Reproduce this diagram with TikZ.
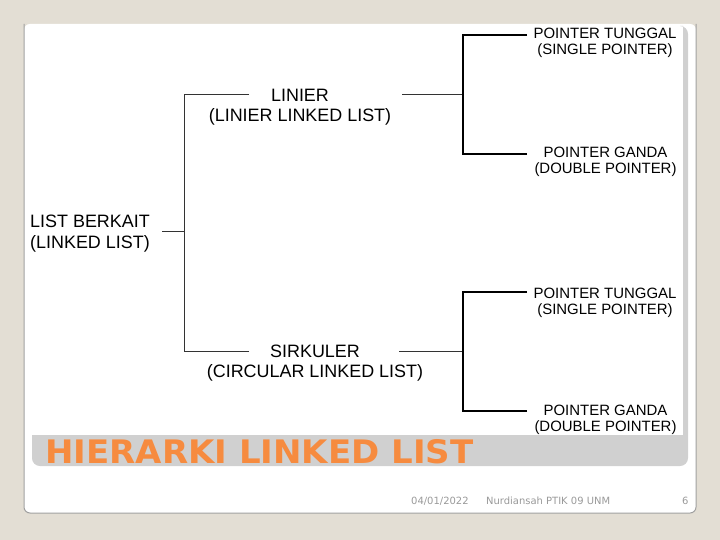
\documentclass[tikz,border=0pt]{standalone}
\usepackage{fontspec}
\setmainfont{Liberation Sans}
\newfontfamily\titlefont[FakeStretch=1.05]{DejaVu Sans}
\newfontfamily\footfont{DejaVu Sans}
\definecolor{bgbeige}{HTML}{E3DED4}
\definecolor{bandgray}{HTML}{D0D0D0}
\definecolor{titleorange}{HTML}{F68B3F}
\definecolor{footgray}{HTML}{9A9A9A}
\definecolor{edgegray}{HTML}{A0A0A0}
\definecolor{linegray}{HTML}{333333}
\tikzset{
  biglab/.style={inner sep=0pt, align=center, text=black, font=\fontsize{18}{20}\selectfont},
  rootlab/.style={inner sep=0pt, align=left, text=black, font=\fontsize{18}{21}\selectfont},
  smalllab/.style={inner sep=0pt, align=center, text=black, font=\fontsize{15}{16}\selectfont},
  thinline/.style={draw=linegray, line width=1bp},
  thickline/.style={draw=black, line width=2bp},
  footer/.style={inner sep=0pt, anchor=base west, text=footgray, font=\footfont\fontsize{10}{12}\selectfont},
}
\begin{document}
\begin{tikzpicture}[x=1bp,y=-1bp]
\fill[bgbeige] (0,0) rectangle (720,540);
\useasboundingbox (0,0) rectangle (720,540);
% slide
\fill[white, rounded corners=6] (24,24) rectangle (696,513);
\draw[edgegray, line width=1bp, rounded corners=6] (24,24) -- (24,513) -- (696,513) -- (696,24);
% gray band
\fill[bandgray] (32,435) [rounded corners=8] -- (32,466) -- (688,466) -- (688,26) [sharp corners] -- (683,26) -- (683,435) -- cycle;
% title
\node[anchor=base west, inner sep=0pt, text=titleorange, font=\titlefont\bfseries\fontsize{32.5}{36}\selectfont] (title) at (45,463) {HIERARKI LINKED LIST};
% labels
\node[rootlab, anchor=west] (root) at (30,234) {LIST BERKAIT\\(LINKED LIST)};
\node[biglab] (lin) at (300,107.5) {LINIER\\(LINIER LINKED LIST)};
\node[biglab] (sir) at (315,363.5) {SIRKULER\\(CIRCULAR LINKED LIST)};
\node[smalllab] (p1t) at (605,43.2) {POINTER TUNGGAL\\(SINGLE POINTER)};
\node[smalllab] (p1g) at (605.5,162.2) {POINTER GANDA\\(DOUBLE POINTER)};
\node[smalllab] (p2t) at (605,302.8) {POINTER TUNGGAL\\(SINGLE POINTER)};
\node[smalllab] (p2g) at (605.5,420) {POINTER GANDA\\(DOUBLE POINTER)};
% connector points
\coordinate (rout) at (162,232);
\coordinate (j1) at (184,232);
\coordinate (linin) at (249,95);
\coordinate (sirin) at (249,351);
\coordinate (linout) at (402,95);
\coordinate (j2) at (463,95);
\coordinate (p1tin) at (527,35);
\coordinate (p1gin) at (527,154);
\coordinate (sirout) at (399,351);
\coordinate (j3) at (463,351);
\coordinate (p2tin) at (527,292);
\coordinate (p2gin) at (527,411);
% connectors
\draw[thinline] (rout) -- (j1);
\draw[thinline] (linin) -| (j1);
\draw[thinline] (sirin) -| (j1);
\draw[thinline] (linout) -- (j2);
\draw[thickline] (p1tin) -| (j2);
\draw[thickline] (p1gin) -| (j2);
\draw[thinline] (sirout) -- (j3);
\draw[thickline] (p2tin) -| (j3);
\draw[thickline] (p2gin) -| (j3);
% footer
\node[footer] (date) at (411,504) {04/01/2022};
\node[footer] (author) at (486,504) {Nurdiansah PTIK 09 UNM};
\node[footer] (page) at (682,504) {6};
\end{tikzpicture}
\end{document}
